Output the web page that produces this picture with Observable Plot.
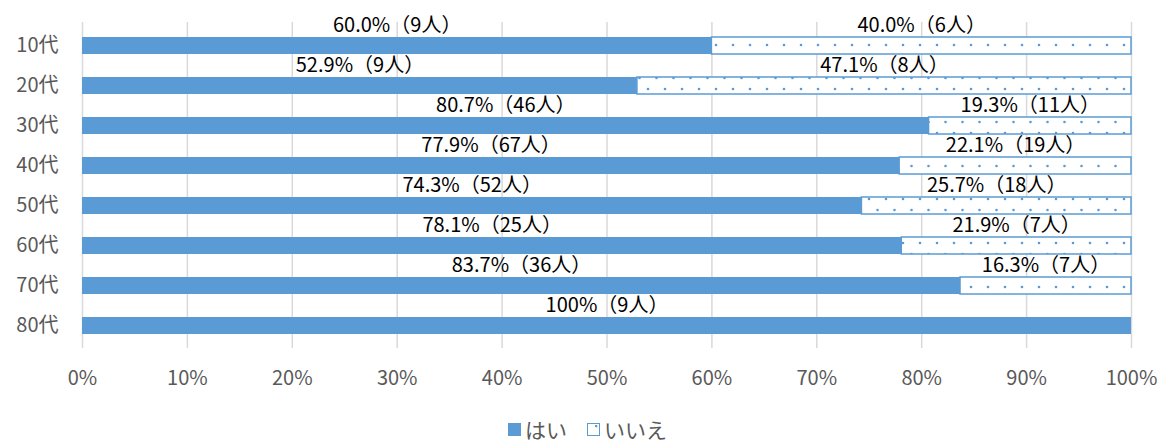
<!DOCTYPE html>
<html><head><meta charset="utf-8">
<script src="https://cdn.jsdelivr.net/npm/d3@7"></script>
<script src="https://cdn.jsdelivr.net/npm/@observablehq/plot@0.6"></script>
<style>
body{margin:0;background:#fff;font-family:"Noto Sans CJK JP","Noto Sans",sans-serif;}
#legend{display:flex;justify-content:center;align-items:center;gap:20px;font-size:21px;color:#595959;height:30px;padding-top:4px;margin-left:10px;}
#legend span{display:inline-flex;align-items:center;gap:4px;}
.sw{display:inline-block;width:13px;height:13px;box-sizing:border-box;}
</style></head>
<body>
<div id="chart"></div>
<div id="legend">
<span><i class="sw" style="background:#5B9BD5"></i>はい</span>
<span><i class="sw" style="border:1.5px solid #5B9BD5;background:radial-gradient(circle at 75% 20%, #5B9BD5 1px, #fff 1.5px)"></i>いいえ</span>
</div>
<script>
const ages = ["10代","20代","30代","40代","50代","60代","70代","80代"];
const yesPct = [60.0, 52.9, 80.7, 77.9, 74.3, 78.1, 83.7, 100];
const noPct  = [40.0, 47.1, 19.3, 22.1, 25.7, 21.9, 16.3, 0];
const yesN = [9, 9, 46, 67, 52, 25, 36, 9];
const noN  = [6, 8, 11, 19, 18, 7, 7, 0];
const xTicks = [0,10,20,30,40,50,60,70,80,90,100];

const fmt = (p, n) => (p === 100 ? "100" : p.toFixed(1)) + "%（" + n + "人）";
const yesRows = ages.map((a,i)=>({age:a, x1:0, x2:yesPct[i], label:fmt(yesPct[i], yesN[i])}));
const noRows = ages.map((a,i)=>({age:a, x1:yesPct[i], x2:yesPct[i]+noPct[i], label:fmt(noPct[i], noN[i]), n:noN[i]})).filter(d=>d.n>0);

const blue = "#5B9BD5";
const svg = Plot.plot({
  width: 1165, height: 410,
  marginLeft: 82, marginRight: 34, marginTop: 22, marginBottom: 62,
  style: {fontFamily: '"Noto Sans CJK JP","Noto Sans",sans-serif', fontSize: "20px", color: "#595959", background: "#fff"},
  x: {domain: [0,100], ticks: xTicks, tickFormat: d => d + "%", label: null},
  y: {domain: ages, label: null, paddingInner: 0.58, paddingOuter: 0.29},
  marks: [
    Plot.gridX(xTicks, {stroke: "#d9d9d9", strokeOpacity: 1, strokeWidth: 1.5}),
    Plot.axisX({ticks: xTicks, tickFormat: d => d + "%", tickSize: 0, tickPadding: 22, label: null, fontSize: 20, fill: "#595959"}),
    Plot.axisY({tickSize: 0, tickPadding: 24, label: null, fontSize: 20, fill: "#595959"}),
    Plot.barX(yesRows, {y: "age", x1: "x1", x2: "x2", fill: blue}),
    Plot.barX(noRows, {y: "age", x1: "x1", x2: "x2", fill: "url(#dots)", stroke: blue, strokeWidth: 1.5}),
    Plot.text(yesRows, {y: "age", x: d => (d.x1+d.x2)/2, text: "label", dy: -20, fill: "#000", fontSize: 20}),
    Plot.text(noRows, {y: "age", x: d => (d.x1+d.x2)/2, text: "label", dy: -20, fill: "#000", fontSize: 20})
  ]
});
// dotted pattern for いいえ bars
const ns = "http://www.w3.org/2000/svg";
const defs = document.createElementNS(ns, "defs");
const pat = document.createElementNS(ns, "pattern");
pat.setAttribute("id", "dots");
pat.setAttribute("patternUnits", "userSpaceOnUse");
pat.setAttribute("width", "17");
pat.setAttribute("height", "22");
pat.setAttribute("y", "1");
const bg = document.createElementNS(ns, "rect");
bg.setAttribute("width", "17"); bg.setAttribute("height", "22"); bg.setAttribute("fill", "#fff");
pat.appendChild(bg);
[[2,0],[10.5,11],[2,22]].forEach(([cx,cy]) => {
  const c = document.createElementNS(ns, "circle");
  c.setAttribute("cx", cx); c.setAttribute("cy", cy); c.setAttribute("r", "1.3"); c.setAttribute("fill", blue);
  pat.appendChild(c);
});
defs.appendChild(pat);
svg.insertBefore(defs, svg.firstChild);
document.getElementById("chart").appendChild(svg);
</script>
</body></html>
